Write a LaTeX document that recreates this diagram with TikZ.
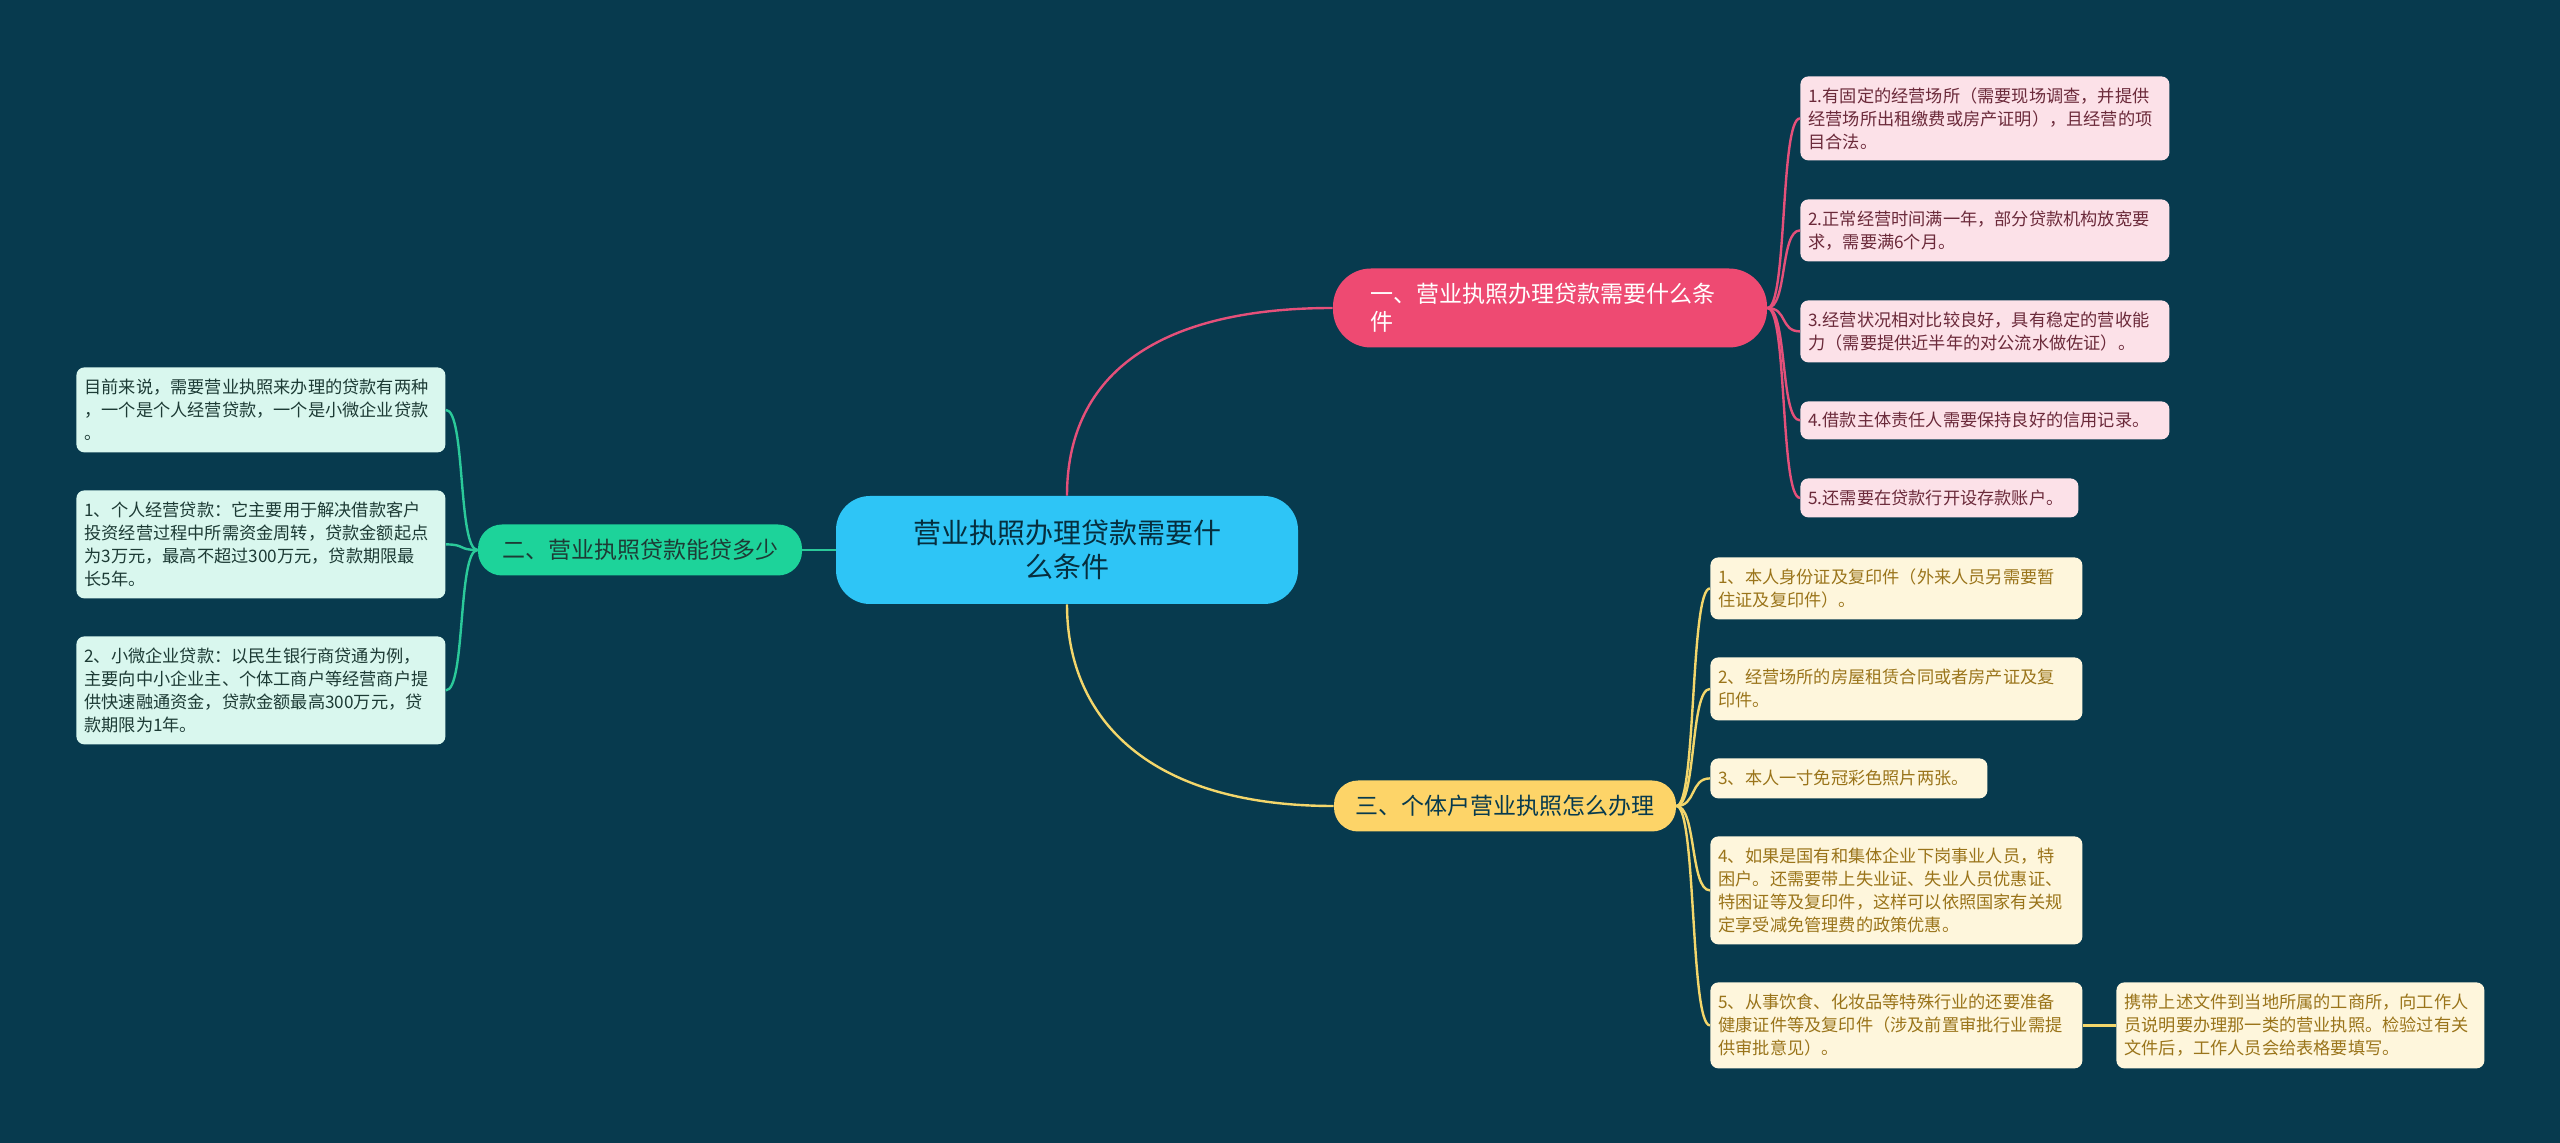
\documentclass[tikz,border=0pt]{standalone}
\usetikzlibrary{calc}
\usepackage{fontspec}
\setmainfont{Noto Sans CJK SC}
\definecolor{bg}{HTML}{073A4E}
\definecolor{rootc}{HTML}{2EC5F6}
\definecolor{b1c}{HTML}{EE4A72}
\definecolor{b2c}{HTML}{1DD39A}
\definecolor{b3c}{HTML}{FDD468}
\definecolor{lp}{HTML}{FCE1E8}
\definecolor{lpt}{HTML}{6B2A3A}
\definecolor{lg}{HTML}{D9F7EE}
\definecolor{lgt}{HTML}{1D3B35}
\definecolor{ly}{HTML}{FEF6DC}
\definecolor{lyt}{HTML}{9A741A}
\definecolor{linep}{HTML}{E5507A}
\definecolor{lineg}{HTML}{2BC99A}
\definecolor{liney}{HTML}{F3D66B}
\begin{document}
\begin{tikzpicture}[x=0.5pt,y=-0.5pt,
  leaf/.style={anchor=north west,rounded corners=4pt,inner xsep=4pt,inner ysep=2pt,align=left,font=\fontsize{8.6}{11.5}\selectfont},
  leafp/.style={leaf,fill=lp,text=lpt},
  leafg/.style={leaf,fill=lg,text=lgt},
  leafy/.style={leaf,fill=ly,text=lyt},
  br/.style={rounded corners=12pt,align=left,inner sep=0pt,font=\fontsize{11.5}{14}\selectfont},
  conp/.style={draw=linep,line width=1.2pt},
  cong/.style={draw=lineg,line width=1.2pt},
  cony/.style={draw=liney,line width=1.2pt}]
\useasboundingbox[fill=bg] (0,0) rectangle (2560,1143);
% root and branches
\node (root) [rounded corners=17pt,fill=rootc,text=bg!80!black,align=center,minimum width=231pt,minimum height=54pt,inner sep=0pt,font=\fontsize{14}{17}\selectfont] at (1067,550) {营业执照办理贷款需要什\\么条件};
\node (b1) [br,fill=b1c,text=white,minimum width=217pt,minimum height=39.5pt,rounded corners=19pt,text width=180pt] at (1550,308) {一、营业执照办理贷款需要什么条\\件};
\node (b2) [br,fill=b2c,text=lgt,minimum width=162pt,minimum height=25.5pt,align=center] at (640,550) {二、营业执照贷款能贷多少};
\node (b3) [br,fill=b3c,text=bg,minimum width=171pt,minimum height=25.5pt,align=center] at (1505,806) {三、个体户营业执照怎么办理};
% right leaves (pink)
\node (p1) [leafp,text width=176.5pt,minimum height=42pt] at (1800,76) {1.有固定的经营场所（需要现场调查，并提供\\经营场所出租缴费或房产证明），且经营的项\\目合法。};
\node (p2) [leafp,text width=176.5pt,minimum height=31pt] at (1800,199) {2.正常经营时间满一年，部分贷款机构放宽要\\求，需要满6个月。};
\node (p3) [leafp,text width=176.5pt,minimum height=31pt] at (1800,300) {3.经营状况相对比较良好，具有稳定的营收能\\力（需要提供近半年的对公流水做佐证）。};
\node (p4) [leafp,text width=176.5pt,minimum height=19pt] at (1800,401) {4.借款主体责任人需要保持良好的信用记录。};
\node (p5) [leafp,text width=131pt,minimum height=19.5pt] at (1800,478) {5.还需要在贷款行开设存款账户。};
% left leaves (green)
\node (g1) [leafg,text width=176.5pt,minimum height=42.5pt] at (76,367) {目前来说，需要营业执照来办理的贷款有两种\\，一个是个人经营贷款，一个是小微企业贷款\\。};
\node (g2) [leafg,text width=176.5pt,minimum height=54pt] at (76,490) {1、个人经营贷款：它主要用于解决借款客户\\投资经营过程中所需资金周转，贷款金额起点\\为3万元，最高不超过300万元，贷款期限最\\长5年。};
\node (g3) [leafg,text width=176.5pt,minimum height=54pt] at (76,636) {2、小微企业贷款：以民生银行商贷通为例，\\主要向中小企业主、个体工商户等经营商户提\\供快速融通资金，贷款金额最高300万元，贷\\款期限为1年。};
% yellow leaves
\node (y1) [leafy,text width=178pt,minimum height=31pt] at (1710,557) {1、本人身份证及复印件（外来人员另需要暂\\住证及复印件）。};
\node (y2) [leafy,text width=178pt,minimum height=31.5pt] at (1710,657) {2、经营场所的房屋租赁合同或者房产证及复\\印件。};
\node (y3) [leafy,text width=130.5pt,minimum height=20pt] at (1710,758) {3、本人一寸免冠彩色照片两张。};
\node (y4) [leafy,text width=178pt,minimum height=54pt] at (1710,836) {4、如果是国有和集体企业下岗事业人员，特\\困户。还需要带上失业证、失业人员优惠证、\\特困证等及复印件，这样可以依照国家有关规\\定享受减免管理费的政策优惠。};
\node (y5) [leafy,text width=178pt,minimum height=43pt] at (1710,982) {5、从事饮食、化妆品等特殊行业的还要准备\\健康证件等及复印件（涉及前置审批行业需提\\供审批意见）。};
\node (y6) [leafy,text width=176pt,minimum height=43pt] at (2116,982) {携带上述文件到当地所属的工商所，向工作人\\员说明要办理那一类的营业执照。检验过有关\\文件后，工作人员会给表格要填写。};
% connectors root-branches
\draw[conp] (root.north) .. controls (1067,380) and (1150,308) .. (b1.west);
\draw[cony] (root.south) .. controls (1067,720) and (1150,806) .. (b3.west);
\draw[cong] (root.west) -- (b2.east);
\foreach \n in {p1,p2,p3,p4,p5}{
  \draw[conp] (b1.east) .. controls ($(b1.east)+(20,0)$) and ($(\n.west)+(-20,0)$) .. (\n.west);
}
\foreach \n in {g1,g2,g3}{
  \draw[cong] (b2.west) .. controls ($(b2.west)+(-20,0)$) and ($(\n.east)+(20,0)$) .. (\n.east);
}
\foreach \n in {y1,y2,y3,y4,y5}{
  \draw[cony] (b3.east) .. controls ($(b3.east)+(20,0)$) and ($(\n.west)+(-20,0)$) .. (\n.west);
}
\draw[cony] (y5.east) -- (y6.west);
\end{tikzpicture}
\end{document}
